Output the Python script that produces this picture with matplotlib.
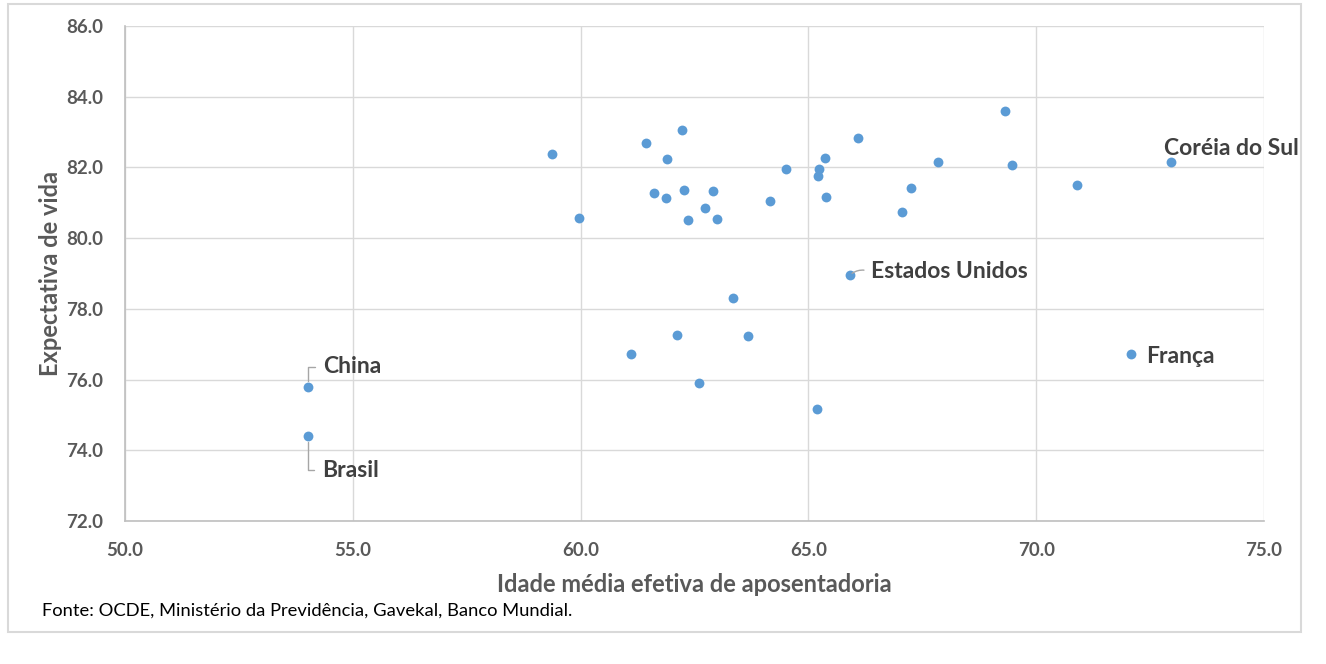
import matplotlib
matplotlib.use("Agg")
import matplotlib.pyplot as plt
from matplotlib.patches import Rectangle

# Idade média efetiva de aposentadoria x expectativa de vida
idade = [59.37, 59.97, 61.43, 62.23, 61.90, 61.61, 61.87, 62.27, 62.91, 62.73,
         62.36, 62.99, 64.16, 64.51, 65.21, 65.23, 65.36, 65.39, 66.09, 67.84,
         67.25, 67.05, 69.31, 69.47, 70.90, 63.35, 62.12, 63.67, 61.11, 62.60,
         65.19,
         72.96, 65.91, 72.08, 54.02, 54.02]
expectativa = [82.38, 80.57, 82.69, 83.06, 82.24, 81.28, 81.14, 81.36, 81.33, 80.85,
               80.51, 80.54, 81.05, 81.96, 81.76, 81.96, 82.27, 81.16, 82.83, 82.15,
               81.42, 80.74, 83.60, 82.07, 81.50, 78.31, 77.26, 77.23, 76.72, 75.90,
               75.17,
               82.15, 78.96, 76.72, 75.79, 74.40]
rotulos = [""] * 31 + ["Coréia do Sul", "Estados Unidos", "França", "China", "Brasil"]

x_ticks = [50, 55, 60, 65, 70, 75]
y_ticks = [72, 74, 76, 78, 80, 82, 84, 86]

# offsets (pixels) for each label
offsets = {"Coréia do Sul": (-7, 14), "Estados Unidos": (21, 3), "França": (15, -2),
           "China": (15, 20), "Brasil": (14, -34)}

plt.rcParams["font.family"] = ["Lato", "DejaVu Sans"]
gray = "#595959"

fig = plt.figure(figsize=(13.26, 6.64), dpi=100)
fig.patches.append(Rectangle((8 / 1326, 32 / 664), 1293 / 1326, 628 / 664,
                             transform=fig.transFigure, fill=False,
                             edgecolor="#D9D9D9", linewidth=1.5))
ax = fig.add_axes([0.0943, 0.2154, 0.8589, 0.7454])

ax.scatter(idade, expectativa, s=50, color="#5B9BD5", zorder=3, linewidths=0)

for xv, yv, lab in zip(idade, expectativa, rotulos):
    if not lab:
        continue
    dx, dy = offsets[lab]
    if lab in ("China", "Brasil"):
        arrow = dict(arrowstyle="-", color="#A6A6A6", lw=1,
                     connectionstyle="angle,angleA=0,angleB=90,rad=0",
                     relpos=(0, 0.5), shrinkA=4, shrinkB=4)
    elif lab == "Estados Unidos":
        arrow = dict(arrowstyle="-", color="#A6A6A6", lw=1,
                     connectionstyle="arc3,rad=0.3",
                     relpos=(0, 0.5), shrinkA=3, shrinkB=2)
    else:
        arrow = None
    ax.annotate(lab, (xv, yv), xytext=(dx, dy), textcoords="offset pixels",
                ha="left", va="center", fontsize=16.5, fontweight="bold",
                color="#404040", arrowprops=arrow, zorder=4)

ax.set_xlim(50, 75)
ax.set_ylim(72, 86)
ax.set_xticks(x_ticks)
ax.set_yticks(y_ticks)
ax.set_xticklabels([f"{v:.1f}" for v in x_ticks])
ax.set_yticklabels([f"{v:.1f}" for v in y_ticks])
ax.tick_params(length=0, labelsize=13.5, labelcolor=gray, pad=15)
ax.tick_params(axis="y", pad=16)
for lbl in ax.get_xticklabels() + ax.get_yticklabels():
    lbl.set_fontweight("bold")

ax.grid(True, color="#D9D9D9", linewidth=1)
ax.set_axisbelow(True)
for side in ["top", "right"]:
    ax.spines[side].set_visible(False)
for side in ["left", "bottom"]:
    ax.spines[side].set_color("#BFBFBF")
    ax.spines[side].set_linewidth(1.2)

ax.set_xlabel("Idade média efetiva de aposentadoria", fontsize=17,
              fontweight="bold", color=gray, labelpad=10)
ax.set_ylabel("Expectativa de vida", fontsize=17, fontweight="bold",
              color=gray, labelpad=3)

fig.text(42 / 1326, 1 - 611 / 664,
         "Fonte: OCDE, Ministério da Previdência, Gavekal, Banco Mundial.",
         fontsize=13.2, color="black", va="center", ha="left")

fig.savefig("out.png", dpi=100)
